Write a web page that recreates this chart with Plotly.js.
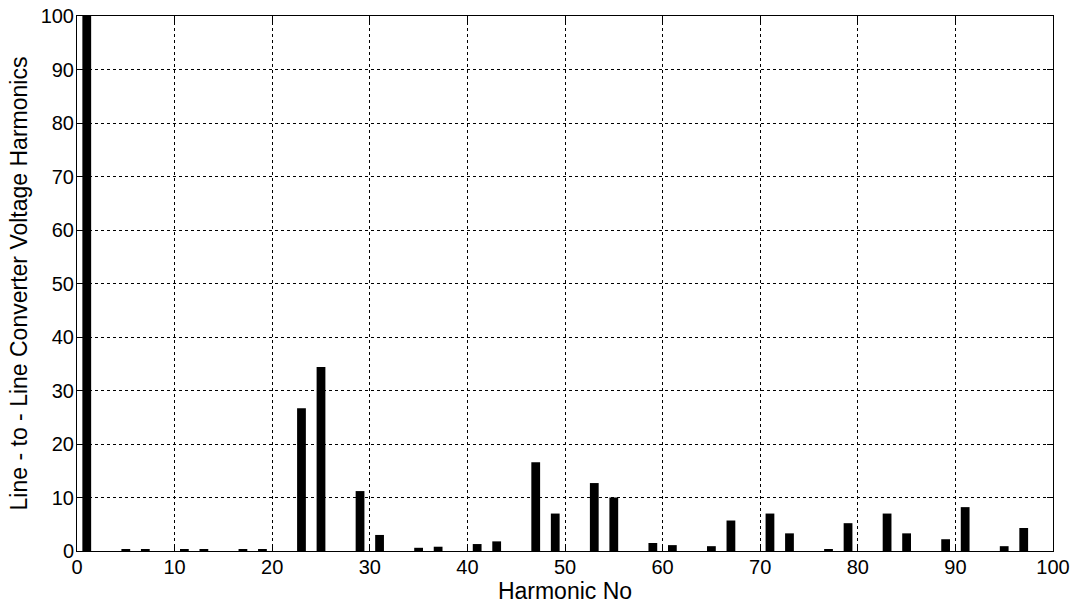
<!DOCTYPE html>
<html><head><meta charset="utf-8">
<script src="https://cdn.plot.ly/plotly-3.0.1.min.js"></script>
<style>body{margin:0;padding:0;background:#fff}#chart{width:1080px;height:606px}</style>
</head><body><div id="chart"></div>
<script>
const harmonics = [1,5,7,11,13,17,19,23,25,29,31,35,37,41,43,47,49,53,55,59,61,65,67,71,73,77,79,83,85,89,91,95,97];
const amplitudes = [100,0.2,0.2,0.2,0.2,0.2,0.2,26.7,34.4,11.2,3.0,0.6,0.8,1.3,1.8,16.6,7.0,12.7,10.0,1.5,1.1,0.9,5.7,7.0,3.3,0.2,5.2,7.0,3.3,2.2,8.2,0.9,4.3];
const xTicks = [0,10,20,30,40,50,60,70,80,90,100];
const yTicks = [0,10,20,30,40,50,60,70,80,90,100];

const FONT = 'Liberation Sans, Arial, sans-serif';
const axisCommon = {
  showline: true, linecolor: '#000', linewidth: 1, mirror: 'ticks',
  showgrid: true, gridcolor: '#000', griddash: 'dot', gridwidth: 1,
  ticks: 'inside', ticklen: 6, tickcolor: '#000',
  zeroline: false, automargin: false,
  tickfont: {family: FONT, size: 20, color: '#000'}
};

Plotly.newPlot('chart', [{
  type: 'bar', x: harmonics, y: amplitudes, width: 0.9,
  marker: {color: '#000', line: {width: 0}}
}], {
  width: 1080, height: 606,
  margin: {l: 77, r: 27, t: 16, b: 55},
  paper_bgcolor: '#fff', plot_bgcolor: '#fff',
  showlegend: false,
  xaxis: Object.assign({}, axisCommon, {
    range: [0, 100], tickvals: xTicks, ticktext: xTicks.map(String), ticklabelstandoff: -2,
    title: {text: 'Harmonic No', font: {family: FONT, size: 23, color: '#000'}, standoff: 0}
  }),
  yaxis: Object.assign({}, axisCommon, {
    range: [0, 100], tickvals: yTicks, ticktext: yTicks.map(String), ticklabelstandoff: -2,
    title: {text: 'Line - to - Line Converter Voltage Harmonics', font: {family: FONT, size: 23, color: '#000'}, standoff: 6}
  })
}, {displayModeBar: false});
</script></body></html>
